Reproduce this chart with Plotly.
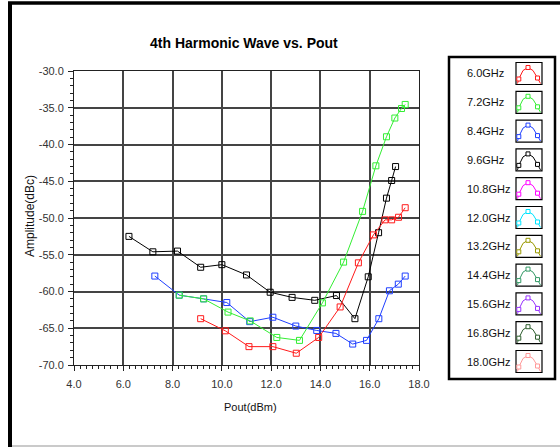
import plotly.graph_objects as go

# ---------------- data ----------------
series_names = ["6.0GHz", "7.2GHz", "8.4GHz", "9.6GHz", "10.8GHz", "12.0GHz",
                "13.2GHz", "14.4GHz", "15.6GHz", "16.8GHz", "18.0GHz"]
series_colors = ["#ff1a1a", "#33ee33", "#1f3fff", "#000000", "#ff00ff", "#00e5ff",
                 "#999900", "#339966", "#9933ff", "#2f5f2f", "#ff9999"]

red_x = [9.14, 10.14, 11.1, 12.07, 13.02, 13.93, 14.8, 15.54, 16.15, 16.62, 16.89, 17.17, 17.44]
red_y = [-63.7, -65.35, -67.5, -67.5, -68.4, -66.25, -62.1, -56.1, -52.3, -50.25, -50.25, -49.9, -48.6]

green_x = [8.27, 9.26, 10.25, 11.15, 12.23, 13.15, 14.08, 14.94, 15.71, 16.25, 16.68, 17.02, 17.29, 17.44]
green_y = [-60.5, -61.0, -62.8, -64.0, -66.25, -66.65, -61.55, -56.0, -49.1, -42.9, -38.95, -36.4, -35.1, -34.55]

blue_x = [7.28, 8.27, 9.26, 10.2, 11.13, 12.07, 13.0, 13.85, 14.63, 15.31, 15.87, 16.37, 16.8, 17.16, 17.44]
blue_y = [-57.9, -60.5, -61.0, -61.5, -64.1, -63.5, -64.7, -65.3, -65.7, -67.15, -66.65, -63.7, -59.9, -59.0, -57.9]

black_x = [6.23, 7.2, 8.2, 9.14, 10.0, 11.0, 11.96, 12.85, 13.77, 14.65, 15.4, 15.94, 16.36, 16.68, 16.89, 17.05]
black_y = [-52.5, -54.6, -54.5, -56.7, -56.35, -57.75, -60.1, -60.8, -61.2, -60.55, -63.7, -58.0, -52.0, -47.3, -44.9, -43.0]

x_tickvals = [4, 6, 8, 10, 12, 14, 16, 18]
x_ticktext = ["4.0", "6.0", "8.0", "10.0", "12.0", "14.0", "16.0", "18.0"]
y_tickvals = [-30, -35, -40, -45, -50, -55, -60, -65, -70]
y_ticktext = ["-30.0", "-35.0", "-40.0", "-45.0", "-50.0", "-55.0", "-60.0", "-65.0", "-70.0"]

title_text = "4th Harmonic Wave vs. Pout"
x_title = "Pout(dBm)"
y_title = "Amplitude(dBc)"

# ---------------- layout geometry (pixels) ----------------
W, H = 560, 447
L, R, T, B = 74, 419, 71, 365
FONT = "Liberation Sans, Arial, sans-serif"


def X(px):
    return (px - L) / (R - L)


def Y(py):
    return (B - py) / (B - T)


fig = go.Figure()

plotted = [
    (2, blue_x, blue_y),
    (3, black_x, black_y),
    (0, red_x, red_y),
    (1, green_x, green_y),
]
for idx, xs, ys in plotted:
    fig.add_trace(go.Scatter(
        x=xs, y=ys, mode="lines+markers", name=series_names[idx],
        line=dict(color=series_colors[idx], width=1),
        marker=dict(symbol="square-open", size=6, color=series_colors[idx],
                    line=dict(width=1, color=series_colors[idx])),
        showlegend=False, hoverinfo="x+y",
    ))

shapes = []
annotations = []

# outer frame
shapes.append(dict(type="line", xref="paper", yref="paper", x0=X(8), x1=X(560), y0=Y(3), y1=Y(3),
                   line=dict(color="black", width=3.5)))
shapes.append(dict(type="line", xref="paper", yref="paper", x0=X(10), x1=X(10), y0=Y(2), y1=Y(447),
                   line=dict(color="black", width=4)))
shapes.append(dict(type="line", xref="paper", yref="paper", x0=X(12), x1=X(560), y0=Y(446), y1=Y(446),
                   line=dict(color="#b8b8b8", width=1.5)))

# legend box
shapes.append(dict(type="rect", xref="paper", yref="paper", x0=X(449), x1=X(555), y0=Y(57), y1=Y(379),
                   line=dict(color="black", width=2.5), fillcolor="white", layer="below"))

row0, dy = 73.5, 28.8
for i, (nm, col) in enumerate(zip(series_names, series_colors)):
    cy = row0 + i * dy
    annotations.append(dict(xref="paper", yref="paper", x=X(465), y=Y(cy), text=nm, showarrow=False,
                            xanchor="left", yanchor="middle",
                            font=dict(family=FONT, size=11, color="#111")))
    bx0, bx1, by0, by1 = 516, 542, cy - 11, cy + 11
    shapes.append(dict(type="rect", xref="paper", yref="paper", x0=X(bx0), x1=X(bx1), y0=Y(by0), y1=Y(by1),
                       line=dict(color="black", width=1.2)))
    pts = [(517.5, cy + 10), (518.8, cy + 5.5), (523, cy - 3), (528, cy - 6), (533, cy - 3),
           (537.5, cy + 4.5), (540.5, cy + 10)]
    path = "M " + " L ".join(f"{X(px):.5f},{Y(py):.5f}" for px, py in pts)
    shapes.append(dict(type="path", xref="paper", yref="paper", path=path,
                       line=dict(color=col, width=1)))
    for (mx, my) in [(518.8, cy + 5.5), (528, cy - 6), (537.5, cy + 4.5)]:
        shapes.append(dict(type="rect", xref="paper", yref="paper",
                           x0=X(mx - 2), x1=X(mx + 2), y0=Y(my - 2), y1=Y(my + 2),
                           line=dict(color=col, width=1), fillcolor="white"))

# titles
annotations.append(dict(xref="paper", yref="paper", x=X(244), y=Y(43), text=title_text, showarrow=False,
                        xanchor="center", yanchor="middle",
                        font=dict(family=FONT, size=14, color="black", weight="bold")))
annotations.append(dict(xref="paper", yref="paper", x=X(250), y=Y(407), text=x_title, showarrow=False,
                        xanchor="center", yanchor="middle",
                        font=dict(family=FONT, size=11, color="#111")))
annotations.append(dict(xref="paper", yref="paper", x=X(30), y=Y(216), text=y_title, showarrow=False,
                        xanchor="center", yanchor="middle", textangle=-90,
                        font=dict(family=FONT, size=12, color="#111")))

axis_common = dict(showline=True, mirror=True, linecolor="#222", linewidth=1,
                   showgrid=True, gridcolor="#444444", gridwidth=1.5, zeroline=False,
                   ticks="outside", ticklen=5, tickcolor="#222", tickwidth=1,
                   tickfont=dict(family=FONT, size=11, color="#333"), fixedrange=True)

fig.update_layout(
    width=W, height=H, autosize=False,
    margin=dict(l=L, r=W - R, t=T, b=H - B, pad=0),
    paper_bgcolor="white", plot_bgcolor="white",
    showlegend=False,
    shapes=shapes, annotations=annotations,
    xaxis=dict(range=[4, 18], tickvals=x_tickvals, ticktext=x_ticktext,
               minor=dict(dtick=0.25, tick0=4, ticks="outside", ticklen=3, tickcolor="#222", showgrid=False),
               ticklabelstandoff=4, **axis_common),
    yaxis=dict(range=[-70, -30], tickvals=y_tickvals, ticktext=y_ticktext,
               minor=dict(dtick=1, tick0=-70, ticks="outside", ticklen=3, tickcolor="#222", showgrid=False),
               ticklabelstandoff=2, **axis_common),
)

fig.write_html("out.html", config={"displayModeBar": False},
               post_script="document.body.style.margin='0';document.body.style.overflow='hidden';")
